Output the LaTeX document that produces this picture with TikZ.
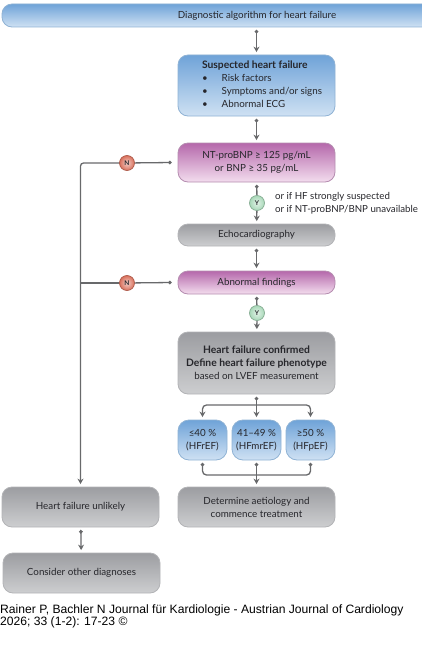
\documentclass[tikz,border=0pt]{standalone}
\usepackage{fontspec}
\setmainfont{Lato}
\newfontfamily\capfont{Liberation Sans}
\usetikzlibrary{arrows.meta, positioning, calc}
\definecolor{linkc}{HTML}{68696B}
\definecolor{inkc}{HTML}{26262B}
\definecolor{bluet}{HTML}{6FA3D8}
\definecolor{blueb}{HTML}{CFE1F3}
\definecolor{bluee}{HTML}{8FB2D4}
\definecolor{pinkt}{HTML}{B568AB}
\definecolor{pinkb}{HTML}{F3DDEE}
\definecolor{pinke}{HTML}{B58DB0}
\definecolor{grayt}{HTML}{9C9DA1}
\definecolor{grayb}{HTML}{CDCED0}
\definecolor{graye}{HTML}{B2B3B6}
\definecolor{noc}{HTML}{D9705C}
\definecolor{yesc}{HTML}{A8D8B8}
\newcommand{\headtext}[1]{{\fontsize{10.3}{13}\selectfont\textbf{#1}}}

\tikzset{
  box/.style={draw, rounded corners=10pt, line width=0.8pt, minimum width=157pt,
    inner sep=0pt, align=center, text=inkc, font=\fontsize{9.8}{13}\selectfont},
  bluebox/.style={box, draw=bluee, top color=bluet, bottom color=blueb},
  pinkbox/.style={box, draw=pinke, top color=pinkt, bottom color=pinkb},
  graybox/.style={box, draw=graye, top color=grayt, bottom color=grayb},
  efbox/.style={bluebox, minimum width=49pt, minimum height=40pt, rounded corners=11pt},
  badge/.style={circle, draw=#1!80!black, inner sep=0pt, minimum size=15pt, line width=0.7pt,
    inner color=#1!35, outer color=#1, text=inkc, font=\bfseries\fontsize{6.5}{7}\selectfont},
  link/.style={draw=linkc, line width=1.3pt},
  flow/.style={link, {Circle[length=3.5pt]}-{Stealth[length=5.5pt, width=6pt]}, shorten <=2.5pt, shorten >=2.5pt},
  dotlink/.style={link, {Circle[length=3.5pt]}-, shorten <=2.5pt},
  endlink/.style={link, -{Stealth[length=5.5pt, width=6pt]}, shorten >=2.5pt},
}

\begin{document}
\begin{tikzpicture}[x=1pt, y=-1pt]
    \useasboundingbox (0,0) rectangle (422,661);
    % title bar (runs off the page)
    \node[bluebox, minimum width=510pt, minimum height=23pt] (title) at (257,15.5)
      {Diagnostic algorithm for heart failure};
    % main column
    \node[bluebox, minimum height=61pt] (suspected) at (256.5,85.5)
      {\begin{tabular}{@{\hspace{11pt}}l@{\hspace{14pt}}l@{}}
        \multicolumn{2}{@{\hspace{11pt}}l}{\headtext{Suspected heart failure}}\\
        \textbullet & Risk factors\\
        \textbullet & Symptoms and/or signs\\
        \textbullet & Abnormal ECG
       \end{tabular}};
    \node[pinkbox, minimum height=39pt] (peptide) at (256.5,162.5)
      {NT-proBNP ≥ 125 pg/mL\\or BNP ≥ 35 pg/mL};
    \node[graybox, minimum height=22pt] (echo) at (256.5,235) {Echocardiography};
    \node[pinkbox, minimum height=23pt] (findings) at (256.5,282.5) {Abnormal findings};
    \node[graybox, minimum height=62pt] (confirmed) at (256.5,363)
      {\headtext{Heart failure confirmed}\\\headtext{Define heart failure phenotype}\\based on LVEF measurement};
    % phenotypes
    \node[efbox] (hfref) at (202.5,440) {≤40 \%\\(HFrEF)};
    \node[efbox] (hfmref) at (256.5,440) {41--49 \%\\(HFmrEF)};
    \node[efbox] (hfpef) at (310.5,440) {≥50 \%\\(HFpEF)};
    \node[graybox, minimum height=40pt] (treat) at (256.5,507)
      {Determine aetiology and\\commence treatment};
    % left column
    \node[graybox, minimum height=40pt] (unlikely) at (80.5,507) {Heart failure unlikely};
    \node[graybox, minimum height=40pt] (other) at (81.5,573) {Consider other diagnoses};
    % badges
    \node[badge=noc] (noa) at (127,163) {N};
    \node[badge=noc] (nob) at (127,283) {N};
    \node[badge=yesc] (yesa) at (257,203) {Y};
    \node[badge=yesc] (yesb) at (257,313) {Y};
    % side note
    \node[anchor=west, align=left, text=inkc, font=\fontsize{9.7}{13}\selectfont] (note) at (271.5,203)
      {or if HF strongly suspected\\or if NT-proBNP/BNP unavailable};
    % column arrows
    \draw[flow] (title.south -| suspected.north) -- (suspected.north);
    \draw[flow] (suspected) -- (peptide);
    \draw[dotlink] (peptide) -- (yesa);
    \draw[endlink] (yesa) -- (echo);
    \draw[flow] (echo) -- (findings);
    \draw[dotlink] (findings) -- (yesb);
    \draw[endlink] (yesb) -- (confirmed);
    \draw[flow] (unlikely) -- (other);
    % no branches
    \coordinate (pepout) at ($(peptide.west)+(-6,0)$);
    \draw[link, {Circle[length=3.5pt]}-] (pepout) -- (noa);
    \draw[endlink, rounded corners=3pt] (noa) -| (unlikely.north);
    \coordinate (findout) at ($(findings.west)+(-6,0)$);
    \coordinate (join) at (unlikely.north |- nob);
    \draw[link, {Circle[length=3.5pt]}-] (findout) -- (nob);
    \draw[link] (nob) -- (join);
    % fork to phenotypes
    \coordinate (forktop) at (256.5,405);
    \coordinate (forkbot) at (256.5,475);
    \draw[flow] (confirmed) -- (hfmref);
    \foreach \ef in {hfref,hfpef}{
      \draw[endlink, rounded corners=4pt] (forktop) -| (\ef.north);
      \draw[dotlink, rounded corners=4pt] (\ef.south) |- (forkbot);
    }
    \draw[flow] (hfmref) -- (treat);
    % source line
    \node[anchor=north west, inner sep=0pt, align=left, text=black,
      font=\capfont\fontsize{12.12}{12}\selectfont] (source) at (0,604.5)
      {Rainer P, Bachler N Journal für Kardiologie - Austrian Journal of Cardiology\\2026; 33 (1-2): 17-23 ©};
  \end{tikzpicture}
\end{document}
